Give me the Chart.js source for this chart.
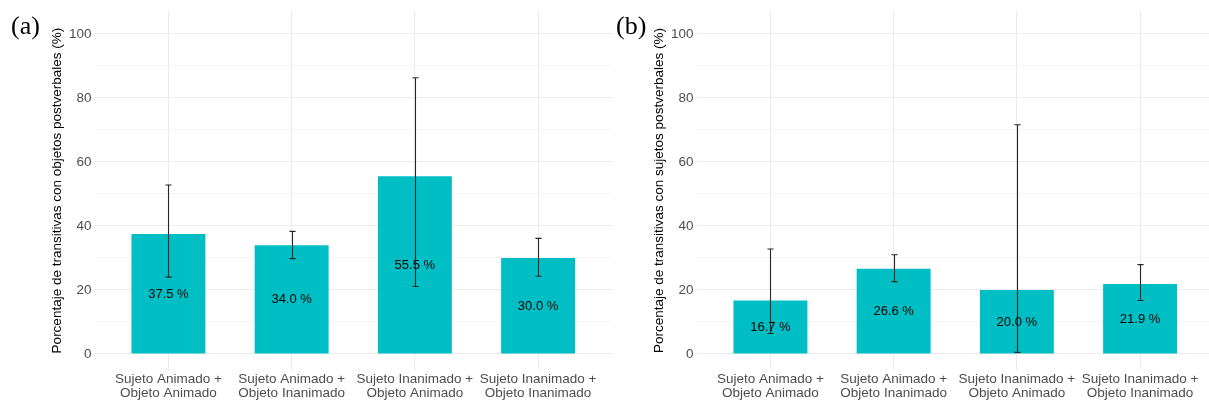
<!DOCTYPE html>
<html>
<head>
<meta charset="utf-8">
<script src="https://cdn.jsdelivr.net/npm/chart.js@4.4.1/dist/chart.umd.min.js"></script>
<style>
  html, body { margin: 0; padding: 0; background: #ffffff; overflow: hidden; }
  #wrap { position: relative; width: 1209px; height: 403px; overflow: hidden; }
  canvas { position: absolute; top: 0; }
  #chartA { left: 0; }
  #chartB { left: 602px; }
  .tag { position: absolute; font-family: "Liberation Serif", "DejaVu Serif", serif; font-size: 26px; line-height: 26px; color: #000; }
</style>
</head>
<body>
<div id="wrap">
  <canvas id="chartA" width="612" height="403"></canvas>
  <canvas id="chartB" width="612" height="403"></canvas>
  <div class="tag" style="left:11px; top:13px;">(a)</div>
  <div class="tag" style="left:616px; top:13px;">(b)</div>
</div>
<script>
// Condition labels (two lines each)
const categories = [
  ["Sujeto Animado +", "Objeto Animado"],
  ["Sujeto Animado +", "Objeto Inanimado"],
  ["Sujeto Inanimado +", "Objeto Animado"],
  ["Sujeto Inanimado +", "Objeto Inanimado"]
];

// Panel (a): postverbal objects, % with confidence interval
const objValues = [37.5, 34.0, 55.5, 30.0];
const objLower  = [24.0, 29.8, 21.1, 24.3];
const objUpper  = [52.8, 38.3, 86.3, 36.1];

// Panel (b): postverbal subjects, % with confidence interval
const subjValues = [16.7, 26.6, 20.0, 21.9];
const subjLower  = [6.4, 22.6, 0.5, 16.7];
const subjUpper  = [32.8, 31.0, 71.6, 27.9];

// Y axis ticks: labelled majors and unlabelled minors
const yMajorTicks = [0, 20, 40, 60, 80, 100];
const yMinorTicks = [10, 30, 50, 70, 90];

const titleA = "Porcentaje de transitivas con objetos postverbales (%)";
const titleB = "Porcentaje de transitivas con sujetos postverbales (%)";

const BAR_COLOR = "#00BFC4";
const GRID_MAJOR = "#ebebeb";
const GRID_MINOR = "#f4f4f4";
const AXIS_TEXT = "#4d4d4d";
const FONT = "'Liberation Sans', Arial, sans-serif";

// Draws the value label at mid-height of each bar, then the error bars
const barDecorations = {
  id: "barDecorations",
  afterDatasetsDraw(chart, args, opts) {
    const { ctx, scales: { x, y } } = chart;
    const values = opts.values, lower = opts.lower, upper = opts.upper;
    ctx.save();
    ctx.fillStyle = "#000000";
    ctx.font = "13px " + FONT;
    ctx.textAlign = "center";
    ctx.textBaseline = "middle";
    values.forEach((v, i) => {
      ctx.fillText(v.toFixed(1) + " %", x.getPixelForValue(i), y.getPixelForValue(v / 2));
    });
    ctx.strokeStyle = "#262626";
    ctx.lineWidth = 1.1;
    values.forEach((v, i) => {
      const cx = Math.round(x.getPixelForValue(i)) + 0.5;
      const half = x.getPixelForValue(i + 0.025) - x.getPixelForValue(i);
      const yl = y.getPixelForValue(lower[i]);
      const yu = y.getPixelForValue(upper[i]);
      ctx.beginPath();
      ctx.moveTo(cx, yl); ctx.lineTo(cx, yu);
      ctx.moveTo(cx - half, yu); ctx.lineTo(cx + half, yu);
      ctx.moveTo(cx - half, yl); ctx.lineTo(cx + half, yl);
      ctx.stroke();
    });
    ctx.restore();
  }
};

function makeChart(canvasId, values, lower, upper, yTitle) {
  const points = values.map((v, i) => ({ x: i, y: v }));
  return new Chart(document.getElementById(canvasId), {
    type: "bar",
    data: {
      datasets: [{
        data: points,
        backgroundColor: BAR_COLOR,
        borderWidth: 0,
        categoryPercentage: 1,
        barPercentage: 0.6
      }]
    },
    options: {
      responsive: false,
      animation: false,
      events: [],
      layout: { padding: { top: 9, left: 0, right: 0, bottom: 0 } },
      plugins: {
        legend: { display: false },
        tooltip: { enabled: false },
        barDecorations: { values, lower, upper }
      },
      scales: {
        x: {
          type: "linear",
          min: -0.6,
          max: 3.6,
          offset: false,
          grid: { offset: false, color: GRID_MAJOR, lineWidth: 1.1, drawTicks: false },
          border: { display: false },
          afterBuildTicks: (scale) => { scale.ticks = categories.map((c, i) => ({ value: i })); },
          afterFit: (scale) => { scale.height = 33; },
          ticks: {
            color: AXIS_TEXT,
            font: { family: FONT, size: 13.5, lineHeight: 1.05 },
            padding: 2,
            maxRotation: 0,
            autoSkip: false,
            callback: (v) => categories[v] || ""
          }
        },
        y: {
          min: -5,
          max: 107.1,
          grid: {
            color: (c) => (yMajorTicks.includes(c.tick.value) ? GRID_MAJOR : GRID_MINOR),
            lineWidth: (c) => (yMajorTicks.includes(c.tick.value) ? 1.1 : 1),
            drawTicks: false
          },
          border: { display: false },
          afterBuildTicks: (scale) => {
            scale.ticks = yMajorTicks.concat(yMinorTicks).sort((a, b) => a - b).map((v) => ({ value: v }));
          },
          afterFit: (scale) => { scale.width = 94.5; },
          title: {
            display: true,
            text: yTitle,
            color: "#000000",
            font: { family: FONT, size: 13.5, lineHeight: 1.2 },
            padding: { top: 49.4, bottom: 0 }
          },
          ticks: {
            color: AXIS_TEXT,
            font: { family: FONT, size: 13.5 },
            padding: 3,
            autoSkip: false,
            callback: (v) => (yMajorTicks.includes(v) ? String(v) : "")
          }
        }
      }
    },
    plugins: [barDecorations]
  });
}

makeChart("chartA", objValues, objLower, objUpper, titleA);
makeChart("chartB", subjValues, subjLower, subjUpper, titleB);
</script>
</body>
</html>
